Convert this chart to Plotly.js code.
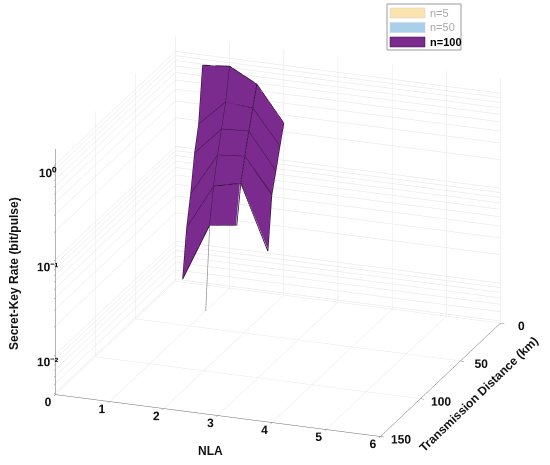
<!DOCTYPE html>
<html>
<head>
<meta charset="utf-8">
<script src="https://cdn.plot.ly/plotly-3.0.1.min.js"></script>
<style>html,body{margin:0;padding:0;background:#fff;}#chart{width:550px;height:465px;}#msg{position:absolute;left:0;top:0;font:11px monospace;white-space:pre-wrap;color:red}</style>
</head>
<body>
<div id="chart"></div>
<div id="msg"></div>
<script>
const log = s => { document.getElementById('msg').textContent += s + '\n'; };
window.onerror = (m) => log('ERR ' + m);
// ---- data ----
const nla = [0.5, 1, 1.5, 2];
const distance = [0, 5, 10, 15, 20, 25];
const skrN100 = [
  [0.778, 0.826, 0.582, 0.246],
  [0.204, 0.378, 0.356, 0.154],
  [0.111, 0.216, 0.223, 0.0923],
  [0.0449, 0.126, 0.133, 0.0578],
  [0.0216, 0.065, 0.076, 0.0159],
  [0.00687, 0.0277, 0.0301, null]
];
const tailNLA = 1;
const tailDistance = [25, 30];
const tailSKR = [0.0277, 0.0038];

const legendNames = ['n=5', 'n=50', 'n=100'];
const legendColors = ['#FBE3B0', '#A9CFEA', '#7B2A8E'];

const nlaTicks = [0, 1, 2, 3, 4, 5, 6];
const distTicks = [0, 50, 100, 150];
const zMajor = [0.01, 0.1, 1];
const zMajorText = ['10\u207B\u00B2', '10\u207B\u00B9', '10\u2070'];
const zRange = [0.0038, 1.47];

const zTickVals = [], zTickText = [];
[0.001, 0.01, 0.1, 1].forEach(dec => {
  for (let m = 1; m <= 9; m++) {
    const v = +(dec * m).toPrecision(3);
    if (v >= zRange[0] && v <= zRange[1]) {
      zTickVals.push(v);
      const k = zMajor.indexOf(v);
      zTickText.push(k >= 0 ? zMajorText[k] : '');
    }
  }
});

const ex = [], ey = [], ez = [];
for (let i = 0; i < nla.length; i++) {
  for (let j = 0; j < distance.length; j++) {
    const v = skrN100[j][i];
    if (v === null) { ex.push(null); ey.push(null); ez.push(null); continue; }
    ex.push(nla[i]); ey.push(distance[j]); ez.push(v);
  }
  ex.push(null); ey.push(null); ez.push(null);
}
for (let j = 0; j < distance.length; j++) {
  for (let i = 0; i < nla.length; i++) {
    const v = skrN100[j][i];
    if (v === null) { ex.push(null); ey.push(null); ez.push(null); continue; }
    ex.push(nla[i]); ey.push(distance[j]); ez.push(v);
  }
  ex.push(null); ey.push(null); ez.push(null);
}

const purple = legendColors[2];
const traces = [
  {
    type: 'surface', x: nla, y: distance, z: skrN100,
    colorscale: [[0, purple], [1, purple]], showscale: false,
    lighting: {ambient: 1, diffuse: 0, specular: 0, roughness: 1, fresnel: 0},
    hoverinfo: 'skip'
  },
  {
    type: 'scatter3d', mode: 'lines', x: ex, y: ey, z: ez,
    line: {color: '#2a0d33', width: 1.6}, connectgaps: false,
    hoverinfo: 'skip'
  },
  {
    type: 'scatter3d', mode: 'lines',
    x: tailDistance.map(() => tailNLA), y: tailDistance, z: tailSKR,
    line: {color: '#8a8a8a', width: 1.4},
    hoverinfo: 'skip'
  }
];

const FONT = 'Liberation Sans, Arial, sans-serif';
const axisBase = {
  showbackground: false, showgrid: true, gridcolor: '#e3e3e3', gridwidth: 1,
  zeroline: false, showline: true, linecolor: '#6b6b6b', linewidth: 1,
  ticks: 'outside', tickcolor: '#6b6b6b', ticklen: 4, tickangle: 0,
  tickfont: {family: FONT, size: 12, color: '#111', weight: 'bold'},
  showspikes: false, title: {text: ''}
};

const dir = [0.325, -0.879, 0.349], dist = 1.31;
const zoomK = 1.49;
const ctr = [-0.012, -0.0045, 0.016];

const shapes = [{type: 'rect', xref: 'paper', yref: 'paper', x0: 387/550, x1: 461/550,
  y0: 1 - 50/465, y1: 1 - 4/465, line: {color: '#9a9a9a', width: 1}, fillcolor: '#fff'}];
const annotations = [];
legendNames.forEach((nm, k) => {
  const yc = 13 + k * 14.5;
  shapes.push({type: 'rect', xref: 'paper', yref: 'paper', x0: 390/550, x1: 425/550,
    y0: 1 - (yc + 5)/465, y1: 1 - (yc - 5)/465, line: {width: 0.5, color: k === 2 ? '#3a1045' : '#cfcfcf'},
    fillcolor: legendColors[k]});
  annotations.push({xref: 'paper', yref: 'paper', x: 428/550, y: 1 - yc/465,
    xanchor: 'left', yanchor: 'middle', showarrow: false, text: k === 2 ? '<b>' + nm + '</b>' : nm,
    font: {family: FONT, size: 11, color: k === 2 ? '#000' : '#a8a8a8'}});
});
const titleAnn = (x, y, ang, txt) => ({xref: 'paper', yref: 'paper', x: x/550, y: 1 - y/465,
  xanchor: 'center', yanchor: 'middle', textangle: ang, showarrow: false,
  text: '<b>' + txt + '</b>', font: {family: FONT, size: 12, color: '#111'}});
annotations.push(titleAnn(14, 274, -90, 'Secret-Key Rate (bit/pulse)'));
annotations.push(titleAnn(210, 451, 0, 'NLA'));
annotations.push(titleAnn(479, 394, -44, 'Transmission Distance (km)'));

const layout = {
  width: 550, height: 465, margin: {l: 0, r: 0, t: 0, b: 0},
  paper_bgcolor: '#fff', showlegend: false,
  scene: {
    domain: {x: [0, 1], y: [0, 1]},
    aspectmode: 'manual', aspectratio: {x: zoomK, y: zoomK, z: 0.757 * zoomK},
    camera: {projection: {type: 'orthographic'}, up: {x: 0, y: 0, z: 1},
      center: {x: ctr[0], y: ctr[1], z: ctr[2]},
      eye: {x: ctr[0] + dir[0] * dist, y: ctr[1] + dir[1] * dist, z: ctr[2] + dir[2] * dist}},
    xaxis: Object.assign({}, axisBase, {range: [0, 6], tickvals: nlaTicks}),
    yaxis: Object.assign({}, axisBase, {range: [150, 0], tickvals: distTicks}),
    zaxis: Object.assign({}, axisBase, {type: 'log', range: [Math.log10(zRange[0]), Math.log10(zRange[1])],
      tickvals: zTickVals, ticktext: zTickText})
  },
  shapes: shapes, annotations: annotations
};

Plotly.newPlot('chart', traces, layout, {displayModeBar: false}).then(() => log('')).catch(e => log('P ' + e));
</script>
</body>
</html>
